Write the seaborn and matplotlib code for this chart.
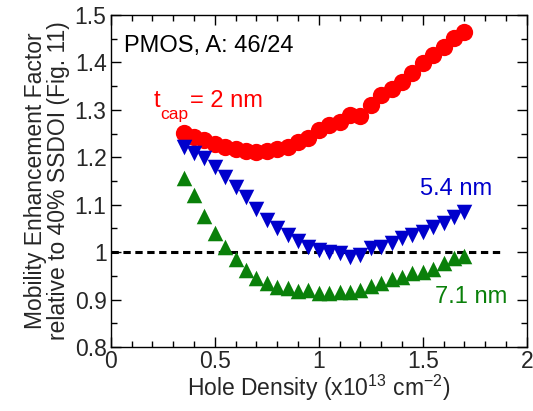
import numpy as np
import pandas as pd
import matplotlib
matplotlib.use("Agg")
import matplotlib.pyplot as plt
import seaborn as sns
from matplotlib.ticker import MultipleLocator, FuncFormatter

sns.set_theme(style="white")
plt.rcParams['font.family'] = ['Liberation Sans', 'DejaVu Sans']
plt.rcParams['mathtext.fontset'] = 'custom'
plt.rcParams['mathtext.rm'] = 'Liberation Sans'
plt.rcParams['mathtext.it'] = 'Liberation Sans:italic'

# Hole density (x1e13 cm^-2)
density = [0.35, 0.40, 0.45, 0.50, 0.55, 0.60, 0.65, 0.70, 0.75, 0.80,
           0.85, 0.90, 0.95, 1.00, 1.05, 1.10, 1.15, 1.20, 1.25, 1.30,
           1.35, 1.40, 1.45, 1.50, 1.55, 1.60, 1.65, 1.70]

tcap_2nm = [1.252, 1.243, 1.236, 1.229, 1.222, 1.217, 1.214, 1.212, 1.214, 1.217,
            1.222, 1.233, 1.240, 1.258, 1.268, 1.275, 1.289, 1.288, 1.310, 1.331,
            1.345, 1.359, 1.377, 1.399, 1.416, 1.432, 1.451, 1.465]

tcap_5p4nm = [1.222, 1.208, 1.198, 1.180, 1.159, 1.138, 1.117, 1.091, 1.068, 1.050,
              1.036, 1.024, 1.011, 1.005, 1.001, 0.998, 0.990, 0.994, 1.008, 1.011,
              1.019, 1.029, 1.036, 1.043, 1.054, 1.061, 1.075, 1.085]

tcap_7p1nm = [1.156, 1.120, 1.076, 1.041, 1.010, 0.985, 0.962, 0.945, 0.936, 0.927,
              0.924, 0.919, 0.920, 0.913, 0.913, 0.917, 0.917, 0.920, 0.929, 0.934,
              0.943, 0.948, 0.955, 0.959, 0.964, 0.977, 0.987, 0.992]

series_names = ["2 nm", "5.4 nm", "7.1 nm"]
series_colors = ["#ff0000", "#0000cc", "#0a800a"]
series_markers = ["o", "v", "^"]
series_sizes = [155, 125, 125]

df = pd.concat([
    pd.DataFrame({"density": density, "factor": vals, "tcap": name})
    for name, vals in zip(series_names, [tcap_2nm, tcap_5p4nm, tcap_7p1nm])
], ignore_index=True)

fig = plt.figure(figsize=(5.33, 4.11), dpi=100)
ax = fig.add_axes([0.2077, 0.1557, 0.7805, 0.8078])

# reference line at 1
ax.hlines(1.0, 0.0, 1.87, colors="black", linestyles=(0, (2.4, 1.5)), linewidth=2.2, zorder=1)

for name, col, mk, sz in zip(series_names, series_colors, series_markers, series_sizes):
    sub = df[df["tcap"] == name]
    sns.scatterplot(data=sub, x="density", y="factor", ax=ax, color=col,
                    marker=mk, s=sz, linewidth=0, edgecolor=col, legend=False, zorder=3)

ax.set_xlim(0, 2)
ax.set_ylim(0.8, 1.5)
ax.xaxis.set_major_locator(MultipleLocator(0.5))
ax.xaxis.set_minor_locator(MultipleLocator(0.1))
ax.yaxis.set_major_locator(MultipleLocator(0.1))
ax.yaxis.set_minor_locator(MultipleLocator(0.05))
ax.xaxis.set_major_formatter(FuncFormatter(lambda v, p: f"{v:g}"))
ax.yaxis.set_major_formatter(FuncFormatter(lambda v, p: f"{v:g}"))

ax.tick_params(which="both", direction="in", top=True, right=True, bottom=True, left=True,
               color="black", width=1.0, labelsize=16.5)
ax.tick_params(which="major", length=7)
ax.tick_params(which="minor", length=4)
ax.tick_params(axis="x", pad=2)
ax.tick_params(axis="y", pad=3)
for sp in ax.spines.values():
    sp.set_color("black")
    sp.set_linewidth(1.0)

ax.set_xlabel("Hole Density (x10$^{\\mathregular{13}}$ cm$^{\\mathregular{-2}}$)", fontsize=16.5, labelpad=0)
ax.set_ylabel("Mobility Enhancement Factor\nrelative to 40% SSDOI (Fig. 11)", fontsize=16.5,
              labelpad=3, linespacing=1.05)

ax.text(0.064, 1.423, "PMOS, A: 46/24", fontsize=17, color="black", va="baseline", ha="left")
ax.text(0.205, 1.307, "t", fontsize=17, color="#ff0000", va="baseline", ha="left")
ax.text(0.240, 1.281, "cap", fontsize=12.5, color="#ff0000", va="baseline", ha="left")
ax.text(0.382, 1.307, "= 2 nm", fontsize=17, color="#ff0000", va="baseline", ha="left")
ax.text(1.487, 1.120, "5.4 nm", fontsize=17, color="#0000cc", va="baseline", ha="left")
ax.text(1.56, 0.893, "7.1 nm", fontsize=17, color="#0a800a", va="baseline", ha="left")

fig.savefig("out.png", dpi=100)
